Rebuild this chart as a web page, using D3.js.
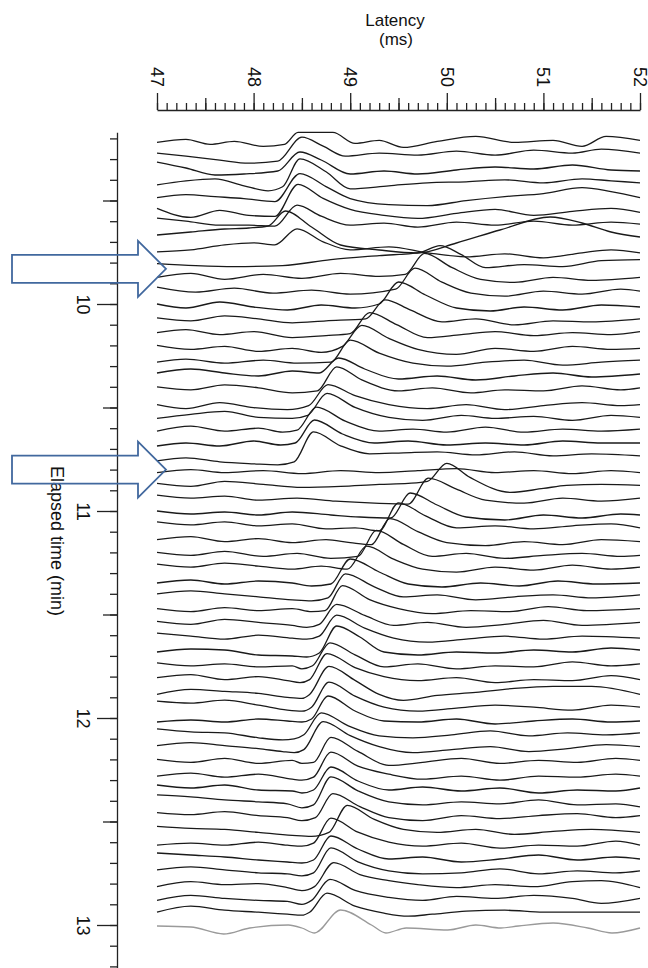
<!DOCTYPE html>
<html>
<head>
<meta charset="utf-8">
<script src="https://cdn.jsdelivr.net/npm/d3@7"></script>
<style>
body { margin: 0; background: #fff; }
svg { display: block; font-family: "Liberation Sans", Arial, sans-serif; }
</style>
</head>
<body>
<script>
// tick labels
var latencyTicks = [47, 48, 49, 50, 51, 52];
var timeTicks = [10, 11, 12, 13];

// elapsed time of each sweep (seconds)
var sweepSeconds = [552, 556, 560, 564, 568, 572, 576, 580, 584, 588, 592, 596, 600, 604, 608, 612,
    616, 620, 624, 628, 632, 636, 640, 644, 648, 652, 656, 660, 664, 668, 672, 676, 680, 684, 688,
    692, 696, 700, 704, 708, 712, 716, 720, 724, 728, 732, 736, 740, 744, 748, 752, 756, 760, 764,
    768, 772, 776, 780];

// the last sweep is drawn in grey
var greySweep = 57;

// arrows (elapsed time in min that they point to)
var arrowTimes = [9.83, 10.80];

// each sweep: [latency ms, amplitude] knots
var sweeps = [
    [[47,-4],[47.3,-1],[47.55,-6],[47.8,-3],[48.1,-8],[48.32,-6],[48.46,6],[48.82,6],[49.05,-5],[49.3,-2],[49.55,-9],[49.9,-3],[50.3,2],[50.7,-4],[51.1,-2],[51.4,-8],[51.65,2],[52,-2]],
    [[47,-1],[47.3,-4],[47.65,-8],[47.95,-11],[48.25,-9],[48.5,15],[48.72,6],[48.95,-4],[49.3,-1],[49.7,-3],[50.1,1],[50.5,-3],[50.9,2],[51.3,-1],[51.6,3],[52,-1]],
    [[47,4],[47.3,-2],[47.6,-9],[47.9,-8],[48.25,-5],[48.48,14],[48.7,6],[49,-8],[49.35,-5],[49.7,-8],[50.1,-4],[50.5,-1],[50.9,-3],[51.3,1],[51.7,-4],[52,-5]],
    [[47,-5],[47.3,-1],[47.6,1],[47.9,-6],[48.15,-11],[48.3,-7],[48.48,21],[48.75,8],[49,-9],[49.4,-6],[49.8,-3],[50.2,-2],[50.6,0],[51,-3],[51.4,1],[51.7,-1],[52,-3]],
    [[47,-4],[47.3,-1],[47.6,-3],[47.9,-5],[48.22,-8],[48.48,20],[48.75,7],[49,-5],[49.4,-11],[49.8,-12],[50.2,-7],[50.6,-3],[51,0],[51.4,6],[51.7,2],[52,-4]],
    [[47,-1],[47.35,-10],[47.65,-3],[47.95,-8],[48.22,-9],[48.46,23],[48.72,9],[49,-2],[49.35,-8],[49.7,-11],[50.1,-6],[50.5,-2],[50.9,-8],[51.3,-4],[51.7,-1],[52,-5]],
    [[47,3],[47.3,0],[47.65,-4],[47.95,-4],[48.22,-5],[48.45,16],[48.7,5],[49,-4],[49.35,-2],[49.7,-6],[50.1,-1],[50.5,-4],[50.9,0],[51.3,-4],[51.7,-1],[52,-3]],
    [[47,0],[47.35,3],[47.7,6],[47.95,7],[48.15,9],[48.33,24],[48.6,8],[48.9,-10],[49.3,-15],[49.69,-18],[50.1,-8],[50.55,5],[51.07,18],[51.4,12],[51.7,3],[52,-2]],
    [[47,-3],[47.35,-1],[47.7,4],[48,6],[48.22,4],[48.45,20],[48.72,7],[49,-1],[49.4,2],[49.8,-4],[50.2,-8],[50.6,-5],[51,-9],[51.4,-4],[51.7,-1],[52,-4]],
    [[47,-1],[47.4,-3],[47.8,-4],[48.3,-3],[48.8,3],[49.3,7],[49.72,10],[49.93,17],[50.15,8],[50.4,-5],[50.8,-2],[51.2,-4],[51.6,2],[52,3]],
    [[47,-1],[47.35,3],[47.7,-3],[48.1,2],[48.5,-2],[48.9,3],[49.3,0],[49.57,2],[49.77,23],[50.05,9],[50.35,-3],[50.7,-6],[51.1,-1],[51.5,-4],[52,-1]],
    [[47,3],[47.4,-2],[47.8,2],[48.2,-3],[48.6,0],[49,-4],[49.47,1],[49.67,22],[49.95,8],[50.25,-3],[50.6,-6],[51,-1],[51.4,-4],[51.8,1],[52,-1]],
    [[47,0],[47.3,-4],[47.65,2],[48,-3],[48.35,-6],[48.7,-1],[49.05,-4],[49.3,0],[49.5,22],[49.78,9],[50.1,-4],[50.45,-7],[50.8,-3],[51.2,-6],[51.6,-1],[52,-3]],
    [[47,0],[47.35,-3],[47.7,2],[48.05,-1],[48.4,-5],[48.75,-3],[49.16,-1],[49.36,18],[49.62,8],[49.95,-4],[50.3,-1],[50.7,-7],[51.1,-3],[51.5,-4],[52,-1]],
    [[47,-1],[47.3,2],[47.65,-3],[48,0],[48.4,-6],[48.75,-4],[49,-2],[49.2,19],[49.48,7],[49.8,-6],[50.15,-3],[50.5,0],[50.9,-4],[51.3,-1],[51.7,-3],[52,0]],
    [[47,0],[47.35,-4],[47.7,-1],[48.05,-6],[48.4,-3],[48.7,-7],[48.92,-1],[49.12,20],[49.4,7],[49.7,-4],[50.1,-9],[50.5,-3],[50.9,-6],[51.3,-1],[51.7,-4],[52,-3]],
    [[47,-3],[47.3,0],[47.7,-4],[48.1,-1],[48.45,-4],[48.8,-3],[49,19],[49.3,6],[49.65,-4],[50,-7],[50.4,-3],[50.8,-1],[51.2,-6],[51.6,-3],[52,-1]],
    [[47,0],[47.35,4],[47.7,0],[48.05,-3],[48.4,2],[48.68,0],[48.88,15],[49.15,4],[49.5,-6],[49.9,-3],[50.3,-7],[50.7,-3],[51.1,0],[51.5,-4],[52,-1]],
    [[47,0],[47.35,-3],[47.7,2],[48.05,-1],[48.4,-6],[48.66,-4],[48.86,20],[49.12,7],[49.5,-4],[49.85,-1],[50.25,-6],[50.6,-3],[51,-4],[51.4,1],[51.8,-3],[52,-1]],
    [[47,-4],[47.3,-8],[47.65,-2],[48,-7],[48.35,-9],[48.57,-5],[48.77,16],[49.05,5],[49.4,-4],[49.8,-8],[50.2,-4],[50.6,-9],[51,-5],[51.4,-2],[51.8,-5],[52,-4]],
    [[47,-4],[47.35,0],[47.7,3],[48.05,-3],[48.4,-4],[48.56,-1],[48.76,21],[49.05,7],[49.4,-3],[49.75,-6],[50.15,-1],[50.5,-4],[50.9,-2],[51.3,-6],[51.7,-1],[52,-3]],
    [[47,-3],[47.35,2],[47.7,-3],[48.05,0],[48.3,-4],[48.45,-2],[48.65,21],[48.95,7],[49.3,-3],[49.65,-1],[50,-4],[50.4,1],[50.8,-4],[51.2,-1],[51.6,-3],[52,-1]],
    [[47,-4],[47.3,-1],[47.65,-4],[48,1],[48.28,-3],[48.43,-1],[48.63,22],[48.92,8],[49.25,-1],[49.6,1],[50,-3],[50.4,-1],[50.8,-3],[51.2,1],[51.6,-1],[52,-1]],
    [[47,-5],[47.3,-2],[47.65,-6],[48,-8],[48.25,-9],[48.42,-6],[48.62,24],[48.9,10],[49.2,2],[49.55,3],[49.9,4],[50.3,1],[50.7,4],[51.1,0],[51.5,2],[52,0]],
    [[47,-3],[47.35,0],[47.7,-3],[48.1,-1],[48.5,-4],[48.9,-1],[49.3,-3],[49.7,-1],[50.1,1],[50.5,-3],[50.9,-1],[51.3,-4],[51.7,-1],[52,-3]],
    [[47,0],[47.35,-3],[47.7,2],[48.1,-1],[48.5,-4],[48.9,-3],[49.3,-1],[49.6,0],[49.8,2],[50,20],[50.24,6],[50.66,-9],[51,-5],[51.24,-2],[51.6,-1],[52,-2]],
    [[47,2],[47.35,-1],[47.7,1],[48.05,-3],[48.45,-1],[48.85,-4],[49.25,-6],[49.6,-7],[49.81,19],[50.1,8],[50.4,-3],[50.8,-6],[51.2,-1],[51.6,-4],[52,-1]],
    [[47,0],[47.35,-3],[47.7,-1],[48.05,-4],[48.4,-1],[48.8,-4],[49.1,-6],[49.42,-7],[49.62,18],[49.9,6],[50.2,-6],[50.6,-9],[51,-4],[51.4,-7],[51.8,-3],[52,-4]],
    [[47,3],[47.35,0],[47.7,3],[48.05,-1],[48.4,1],[48.75,-4],[49.05,-3],[49.3,-6],[49.5,22],[49.78,9],[50.1,-3],[50.5,-1],[50.9,-4],[51.3,-1],[51.7,1],[52,-3]],
    [[47,-1],[47.35,2],[47.7,-3],[48.05,0],[48.4,-4],[48.75,-1],[49,-4],[49.22,-6],[49.41,20],[49.7,7],[50,-4],[50.4,-7],[50.8,-3],[51.2,-6],[51.6,-1],[52,-3]],
    [[47,0],[47.35,-3],[47.7,1],[48.1,-4],[48.45,-1],[48.8,-6],[49.08,-4],[49.27,22],[49.55,8],[49.85,-4],[50.2,-1],[50.6,-6],[51,-3],[51.4,-1],[51.8,-4],[52,-3]],
    [[47,2],[47.35,-1],[47.7,3],[48.05,0],[48.4,-3],[48.7,0],[48.97,-3],[49.17,20],[49.45,7],[49.75,-3],[50.1,-6],[50.5,-1],[50.9,-4],[51.3,1],[51.7,-3],[52,-1]],
    [[47,-3],[47.35,0],[47.7,-4],[48.05,-1],[48.4,-3],[48.6,-6],[48.8,-4],[49,21],[49.3,8],[49.6,-4],[49.95,-7],[50.35,-3],[50.75,-6],[51.15,-1],[51.55,-4],[52,-3]],
    [[47,0],[47.35,3],[47.7,0],[48.05,-3],[48.4,-6],[48.6,-7],[48.77,-4],[48.95,20],[49.25,7],[49.55,-3],[49.9,-1],[50.3,-6],[50.7,-3],[51.1,-1],[51.5,-4],[52,-1]],
    [[47,-1],[47.35,-4],[47.7,0],[48.05,-3],[48.4,-1],[48.6,-4],[48.74,-3],[48.92,22],[49.2,8],[49.5,-1],[49.85,-6],[50.25,-3],[50.65,-4],[51.05,1],[51.45,-3],[52,-1]],
    [[47,0],[47.35,-3],[47.7,2],[48.05,-1],[48.4,-4],[48.55,-6],[48.68,-3],[48.86,17],[49.15,6],[49.45,-4],[49.8,-1],[50.2,-6],[50.6,-3],[51,1],[51.4,-4],[52,-1]],
    [[47,2],[47.35,-1],[47.7,-4],[48.05,0],[48.4,-3],[48.55,-4],[48.68,-1],[48.86,20],[49.15,7],[49.45,-3],[49.8,-7],[50.2,-4],[50.6,-1],[51,-4],[51.4,-1],[52,-3]],
    [[47,-3],[47.35,0],[47.7,-1],[48.05,-6],[48.4,-7],[48.55,-8],[48.68,-4],[48.86,23],[49.1,12],[49.35,-3],[49.7,-6],[50.1,-3],[50.5,-4],[50.9,-1],[51.3,-3],[51.7,1],[52,-1]],
    [[47,0],[47.35,-3],[47.7,-1],[48.05,-4],[48.4,-3],[48.5,-6],[48.61,-3],[48.79,20],[49.05,8],[49.35,-4],[49.7,-1],[50.1,-6],[50.5,-3],[50.9,-4],[51.3,1],[51.7,-3],[52,-1]],
    [[47,-1],[47.35,2],[47.7,-3],[48.05,0],[48.35,-4],[48.48,-6],[48.58,-3],[48.76,23],[49.05,9],[49.35,0],[49.7,-4],[50.1,-1],[50.5,-6],[50.9,-3],[51.3,-4],[51.7,1],[52,-3]],
    [[47,-4],[47.35,1],[47.7,-1],[48.05,-3],[48.35,-7],[48.5,-8],[48.58,-4],[48.78,24],[49.05,10],[49.3,-4],[49.55,-10],[49.9,-5],[50.3,-2],[50.7,2],[51.1,4],[51.5,4],[52,-4]],
    [[47,3],[47.35,1],[47.7,4],[48.05,-1],[48.35,-6],[48.5,-7],[48.6,-3],[48.78,22],[49.05,8],[49.35,-3],[49.7,-7],[50.1,-4],[50.5,-1],[50.9,-3],[51.3,-6],[51.7,-1],[52,-3]],
    [[47,-4],[47.35,-2],[47.7,-4],[48.05,-1],[48.35,-3],[48.5,-4],[48.6,-1],[48.77,22],[49.05,7],[49.35,-3],[49.7,-4],[50.1,-1],[50.5,-6],[50.9,-3],[51.3,-1],[51.7,-4],[52,-3]],
    [[47,3],[47.35,0],[47.7,-1],[48.05,-6],[48.3,-8],[48.42,-7],[48.52,-3],[48.7,19],[48.98,6],[49.3,-4],[49.65,-6],[50.05,-3],[50.45,1],[50.85,-4],[51.25,-1],[51.65,-3],[52,-1]],
    [[47,0],[47.35,3],[47.7,0],[48.05,-3],[48.3,-6],[48.42,-7],[48.52,-4],[48.72,24],[49,10],[49.3,-1],[49.65,-7],[50.05,-4],[50.45,-1],[50.85,-6],[51.25,-3],[51.65,1],[52,-1]],
    [[47,0],[47.35,-3],[47.7,1],[48.05,-4],[48.4,-1],[48.5,-4],[48.62,-3],[48.8,22],[49.08,8],[49.4,-6],[49.75,-3],[50.15,1],[50.55,-4],[50.95,-1],[51.35,-3],[51.75,1],[52,-1]],
    [[47,-3],[47.35,0],[47.7,-4],[48.05,-1],[48.4,-6],[48.5,-7],[48.62,-4],[48.8,21],[49.08,7],[49.4,-1],[49.75,-6],[50.15,-3],[50.55,-7],[50.95,-3],[51.35,-4],[51.75,-1],[52,-3]],
    [[47,2],[47.35,-1],[47.7,2],[48.05,-3],[48.4,-4],[48.5,-6],[48.62,-3],[48.8,20],[49.08,6],[49.4,-3],[49.75,0],[50.15,-4],[50.55,-1],[50.95,-6],[51.35,-3],[51.75,-4],[52,-1]],
    [[47,6],[47.35,4],[47.7,1],[48.05,-1],[48.35,-3],[48.5,-7],[48.62,-4],[48.8,24],[49.08,10],[49.4,-1],[49.75,-4],[50.15,-1],[50.55,-3],[50.95,1],[51.35,-4],[51.75,-3],[52,-6]],
    [[47,2],[47.35,0],[47.7,3],[48.05,-1],[48.35,-3],[48.5,-6],[48.64,-3],[48.82,21],[49.1,8],[49.4,-3],[49.75,-6],[50.15,-1],[50.55,-4],[50.95,-1],[51.35,1],[51.75,-3],[52,-1]],
    [[47,2],[47.35,0],[47.7,-1],[48.05,-4],[48.4,-7],[48.6,-8],[48.78,-4],[48.97,23],[49.25,9],[49.55,-1],[49.9,-4],[50.3,-1],[50.7,-6],[51.1,-3],[51.5,-1],[52,-4]],
    [[47,-3],[47.35,-1],[47.7,-3],[48.05,0],[48.35,-3],[48.5,-4],[48.62,-1],[48.8,24],[49.08,10],[49.4,0],[49.75,-4],[50.15,-1],[50.55,-6],[50.95,-3],[51.35,-4],[51.75,1],[52,-3]],
    [[47,3],[47.35,1],[47.7,-1],[48.05,-4],[48.35,-6],[48.5,-7],[48.62,-4],[48.8,20],[49.08,7],[49.4,-3],[49.75,-1],[50.15,-6],[50.55,-3],[50.95,1],[51.35,-4],[51.75,-1],[52,-3]],
    [[47,0],[47.35,3],[47.7,0],[48.05,-3],[48.35,-4],[48.5,-6],[48.62,-3],[48.8,22],[49.08,8],[49.4,-1],[49.75,-4],[50.15,-3],[50.55,1],[50.95,-4],[51.35,-1],[51.75,-3],[52,-1]],
    [[47,-3],[47.35,2],[47.7,-1],[48.05,0],[48.35,-4],[48.5,-7],[48.63,-3],[48.83,21],[49.1,9],[49.4,3],[49.7,-1],[50.1,-4],[50.5,-1],[50.9,-3],[51.3,2],[51.6,3],[52,-4]],
    [[47,-3],[47.35,2],[47.7,-1],[48.05,-3],[48.35,-4],[48.5,-7],[48.6,-3],[48.79,18],[49.05,7],[49.4,0],[49.75,-3],[50.1,1],[50.5,-1],[50.9,2],[51.3,-1],[51.6,-6],[52,-1]],
    [[47,-1],[47.35,5],[47.7,1],[48.05,-1],[48.35,-3],[48.5,-4],[48.58,-1],[48.76,18],[49.05,5],[49.35,-2],[49.6,-5],[49.85,-3],[50.2,0],[50.6,1],[51,-1],[51.35,-1],[51.7,-1],[52,-1]],
    [[47,-1],[47.35,-2],[47.69,-9],[47.96,-3],[48.36,0],[48.5,-3],[48.63,-8],[48.9,15],[49.22,0],[49.37,-8],[49.58,-3],[50.01,-5],[50.3,0],[50.56,-3],[50.74,-1],[51.1,2],[51.46,-3],[51.71,-8],[52,-3]]
];

var width = 648, height = 968;

var svg = d3.select("body").append("svg")
    .attr("width", width)
    .attr("height", height);

// scales
var x = d3.scaleLinear().domain([47, 52]).range([157, 640]);
var y = d3.scaleLinear().domain([10, 13]).range([304, 925]);   // elapsed time, min
var amp = d3.scaleLinear().domain([0, 10]).range([0, -10]);    // trace amplitude -> px

var axisY = 110, axisX = 117;

//top axis (latency)
var minorLat = d3.range(470, 521).map(function (d) { return d / 10; });
var midLat = [47.5, 48.5, 49.5, 50.5, 51.5];

svg.append("g")
    .attr("transform", "translate(0," + axisY + ")")
    .call(d3.axisTop(x).tickValues(minorLat).tickSize(7).tickSizeOuter(0).tickFormat(""))
    .call(function (g) { g.select(".domain").remove(); });

svg.append("g")
    .attr("transform", "translate(0," + axisY + ")")
    .call(d3.axisTop(x).tickValues(midLat).tickSize(12).tickSizeOuter(0).tickFormat(""))
    .call(function (g) { g.select(".domain").remove(); });

var topAxis = svg.append("g")
    .attr("transform", "translate(0," + axisY + ")")
    .call(d3.axisTop(x).tickValues(latencyTicks).tickSize(17).tickSizeOuter(0).tickFormat(d3.format("d")));

topAxis.selectAll("text")
    .attr("transform", "translate(0,-33) rotate(90)")
    .attr("y", 0)
    .attr("x", 0)
    .attr("dy", "0.36em")
    .attr("text-anchor", "middle");

// left axis (elapsed time)
var yAxisScale = d3.scaleLinear().domain([9.17, 13.26]).range([y(9.17), y(13.26)]);
var minorTime = d3.range(92, 133).map(function (d) { return d / 10; });
var midTime = [9.5, 10.5, 11.5, 12.5];

svg.append("g")
    .attr("transform", "translate(" + axisX + ",0)")
    .call(d3.axisLeft(yAxisScale).tickValues(minorTime).tickSize(7).tickSizeOuter(0).tickFormat(""))
    .call(function (g) { g.select(".domain").remove(); });

svg.append("g")
    .attr("transform", "translate(" + axisX + ",0)")
    .call(d3.axisLeft(yAxisScale).tickValues(midTime).tickSize(14).tickSizeOuter(0).tickFormat(""))
    .call(function (g) { g.select(".domain").remove(); });

var leftAxis = svg.append("g")
    .attr("transform", "translate(" + axisX + ",0)")
    .call(d3.axisLeft(yAxisScale).tickValues(timeTicks).tickSize(20).tickSizeOuter(0).tickFormat(d3.format("d")));

leftAxis.selectAll("text")
    .attr("transform", "translate(-34,0) rotate(90)")
    .attr("x", 0)
    .attr("y", 0)
    .attr("dy", "0.35em")
    .attr("text-anchor", "middle");

svg.selectAll(".tick text")
    .attr("font-size", 18)
    .attr("font-family", "Liberation Sans, Arial, sans-serif")
    .attr("fill", "#111");

svg.selectAll(".tick line, .domain")
    .attr("stroke", "#222")
    .attr("stroke-width", 1.3);

// axis titles
svg.append("text")
    .attr("x", 395).attr("y", 26)
    .attr("text-anchor", "middle")
    .attr("font-size", 17)
    .attr("fill", "#111")
    .text("Latency");

svg.append("text")
    .attr("x", 396).attr("y", 45)
    .attr("text-anchor", "middle")
    .attr("font-size", 17)
    .attr("fill", "#111")
    .text("(ms)");

svg.append("text")
    .attr("transform", "translate(51," + 541 + ") rotate(90)")
    .attr("text-anchor", "middle")
    .attr("font-size", 18)
    .attr("fill", "#111")
    .text("Elapsed time (min)");

// sweeps
svg.append("g")
    .selectAll("path")
    .data(sweeps)
    .enter()
    .append("path")
    .attr("fill", "none")
    .attr("stroke", function (d, i) { return i === greySweep ? "#9a9a9a" : "#1a1a1a"; })
    .attr("stroke-width", 1.3)
    .attr("d", function (d, i) {
        var base = y(sweepSeconds[i] / 60);
        return d3.line()
            .x(function (p) { return x(p[0]); })
            .y(function (p) { return base + amp(p[1]); })
            .curve(d3.curveMonotoneX)(d);
    });

// arrows
svg.append("g")
    .selectAll("path")
    .data(arrowTimes)
    .enter()
    .append("path")
    .attr("fill", "none")
    .attr("stroke", "#41689e")
    .attr("stroke-width", 1.8)
    .attr("stroke-linejoin", "miter")
    .attr("d", function (t) {
        var tx = x(47) + 9, ty = y(t);
        var pts = [[tx, ty], [tx - 28, ty - 28], [tx - 28, ty - 14], [tx - 154, ty - 14],
                   [tx - 154, ty + 14], [tx - 28, ty + 14], [tx - 28, ty + 28]];
        return d3.line()(pts) + "Z";
    });
</script>
</body>
</html>
